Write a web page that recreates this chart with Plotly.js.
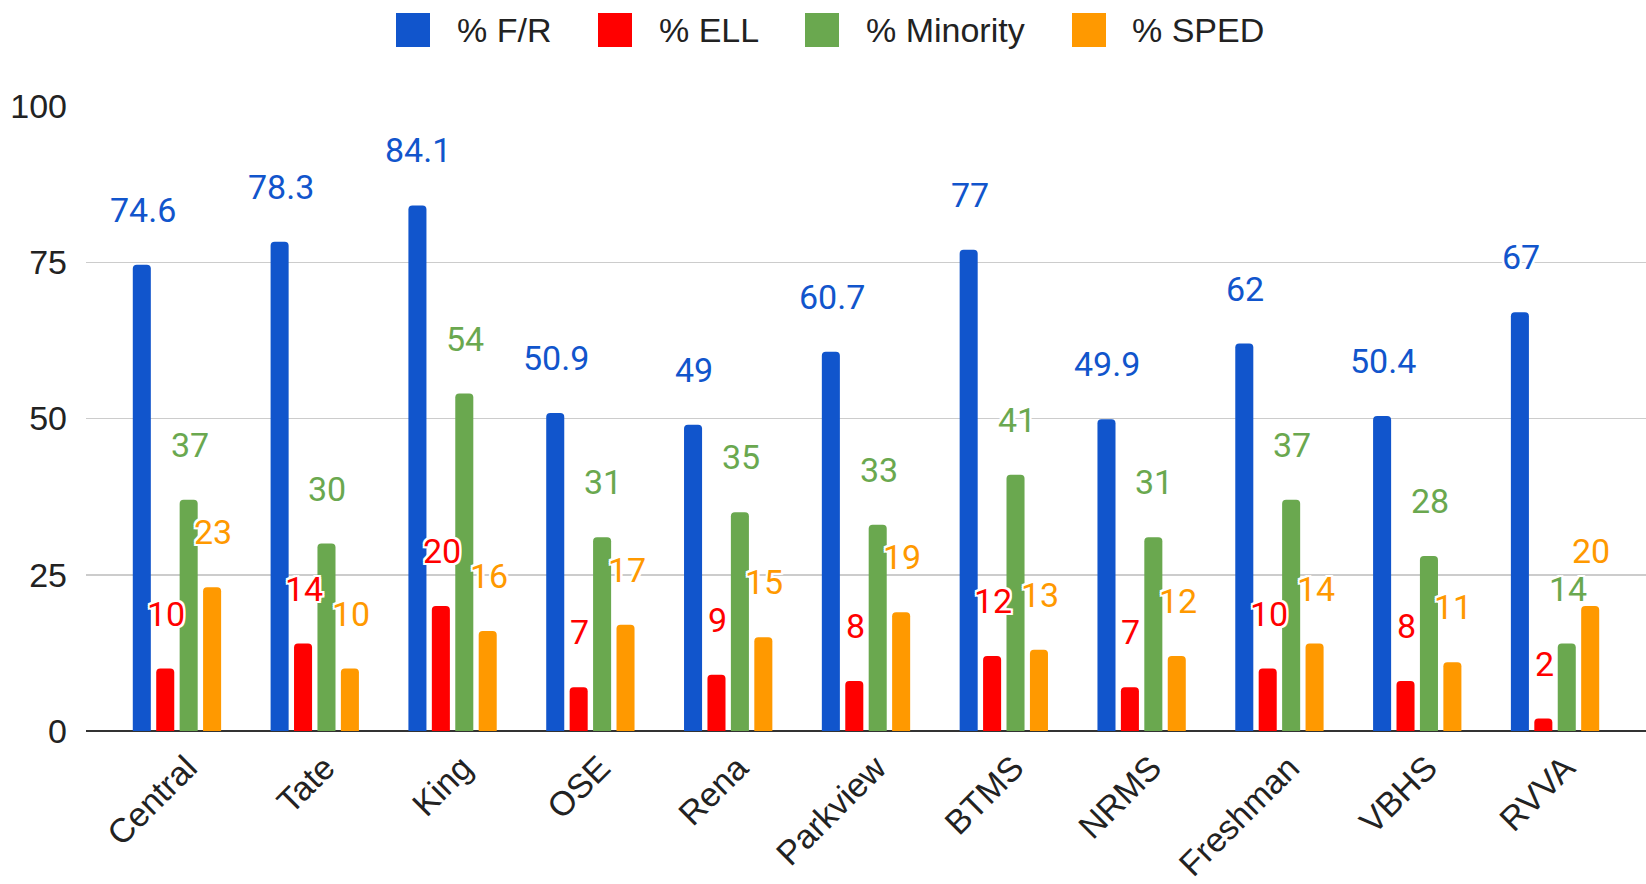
<!DOCTYPE html>
<html>
<head>
<meta charset="utf-8">
<script src="https://cdn.plot.ly/plotly-3.0.1.min.js"></script>
<style>html,body{margin:0;padding:0;background:#fff;}#chart{width:1646px;height:884px;}</style>
</head>
<body>
<div id="chart"></div>
<script>
// ---- data ----
const categories = ["Central", "Tate", "King", "OSE", "Rena", "Parkview", "BTMS", "NRMS", "Freshman", "VBHS", "RVVA"];
const seriesNames = ["% F/R", "% ELL", "% Minority", "% SPED"];
const pctFR = [74.6, 78.3, 84.1, 50.9, 49, 60.7, 77, 49.9, 62, 50.4, 67];
const pctELL = [10, 14, 20, 7, 9, 8, 12, 7, 10, 8, 2];
const pctMinority = [37, 30, 54, 31, 35, 33, 41, 31, 37, 28, 14];
const pctSPED = [23, 10, 16, 17, 15, 19, 13, 12, 14, 11, 20];
const yTickVals = [0, 25, 50, 75, 100];

// ---- styling ----
const colors = ["#1155cc", "#ff0000", "#6aa84f", "#ff9900"];
const seriesValues = [pctFR, pctELL, pctMinority, pctSPED];
const W = 1646, H = 884;
const M = {l: 86, r: 0, t: 106, b: 153};
const xRange = [-0.66, 10.66];
const bargap = 0.32, bargroupgap = 0.23;
const axisFont = "Arial, 'Liberation Sans', sans-serif";
const labelFont = "Roboto, Arial, sans-serif";
const halo = "-2px -2px 0 #fff, 2px -2px 0 #fff, -2px 2px 0 #fff, 2px 2px 0 #fff, 0 2px 0 #fff, 0 -2px 0 #fff, 2px 0 0 #fff, -2px 0 0 #fff";

const plotW = W - M.l - M.r, plotH = H - M.t - M.b;
const px2x = px => (px - M.l) / plotW;
const py2y = py => (H - M.b - py) / plotH;

const traces = seriesNames.map((name, i) => ({
  type: "bar",
  name: name,
  x: categories,
  y: seriesValues[i],
  marker: {color: colors[i]},
  showlegend: false,
  hoverinfo: "x+y+name"
}));

// data labels
const slot = plotW / (xRange[1] - xRange[0]) * (1 - bargap) / seriesNames.length;
const annotations = [];
seriesValues.forEach((vals, i) => {
  vals.forEach((v, j) => {
    annotations.push({
      x: categories[j], y: v, xref: "x", yref: "y",
      text: String(v), showarrow: false,
      xanchor: "center", yanchor: "middle",
      xshift: (i - (seriesNames.length - 1) / 2) * slot + 1,
      yshift: 55,
      font: {family: labelFont, size: 34, color: colors[i], shadow: halo}
    });
  });
});

// custom legend (large swatches)
const legendSwatchX = [396, 598, 805, 1072];
const legendTextX = [455, 657, 864, 1130];
const legendCY = 30;
const shapes = [];
seriesNames.forEach((name, i) => {
  shapes.push({
    type: "rect", xref: "paper", yref: "paper",
    x0: px2x(legendSwatchX[i]), x1: px2x(legendSwatchX[i] + 34),
    y0: py2y(legendCY - 17), y1: py2y(legendCY + 17),
    fillcolor: colors[i], line: {width: 0}
  });
  annotations.push({
    xref: "paper", yref: "paper",
    x: px2x(legendTextX[i]), y: py2y(legendCY),
    xanchor: "left", yanchor: "middle", showarrow: false,
    text: name,
    font: {family: axisFont, size: 34, color: "#222"}
  });
});

const layout = {
  width: W, height: H,
  margin: M,
  paper_bgcolor: "#fff", plot_bgcolor: "#fff",
  barmode: "group",
  bargap: bargap, bargroupgap: bargroupgap,
  barcornerradius: 4,
  showlegend: false,
  xaxis: {
    type: "category",
    range: xRange,
    tickangle: -45,
    tickfont: {family: axisFont, size: 34, color: "#222"},
    showgrid: false, showline: false, zeroline: false,
    ticks: "", ticklabelstandoff: 9, ticklabelshift: 10
  },
  yaxis: {
    range: [0, 100],
    tickvals: yTickVals,
    ticktext: yTickVals.map(String),
    tickfont: {family: axisFont, size: 34, color: "#222"},
    gridcolor: "#cccccc", gridwidth: 1.5,
    zeroline: true, zerolinecolor: "#333", zerolinewidth: 2.5,
    showline: false, ticks: "",
    ticklabelstandoff: 18
  },
  shapes: shapes,
  annotations: annotations
};

Plotly.newPlot("chart", traces, layout, {displayModeBar: false, staticPlot: true});
</script>
</body>
</html>
